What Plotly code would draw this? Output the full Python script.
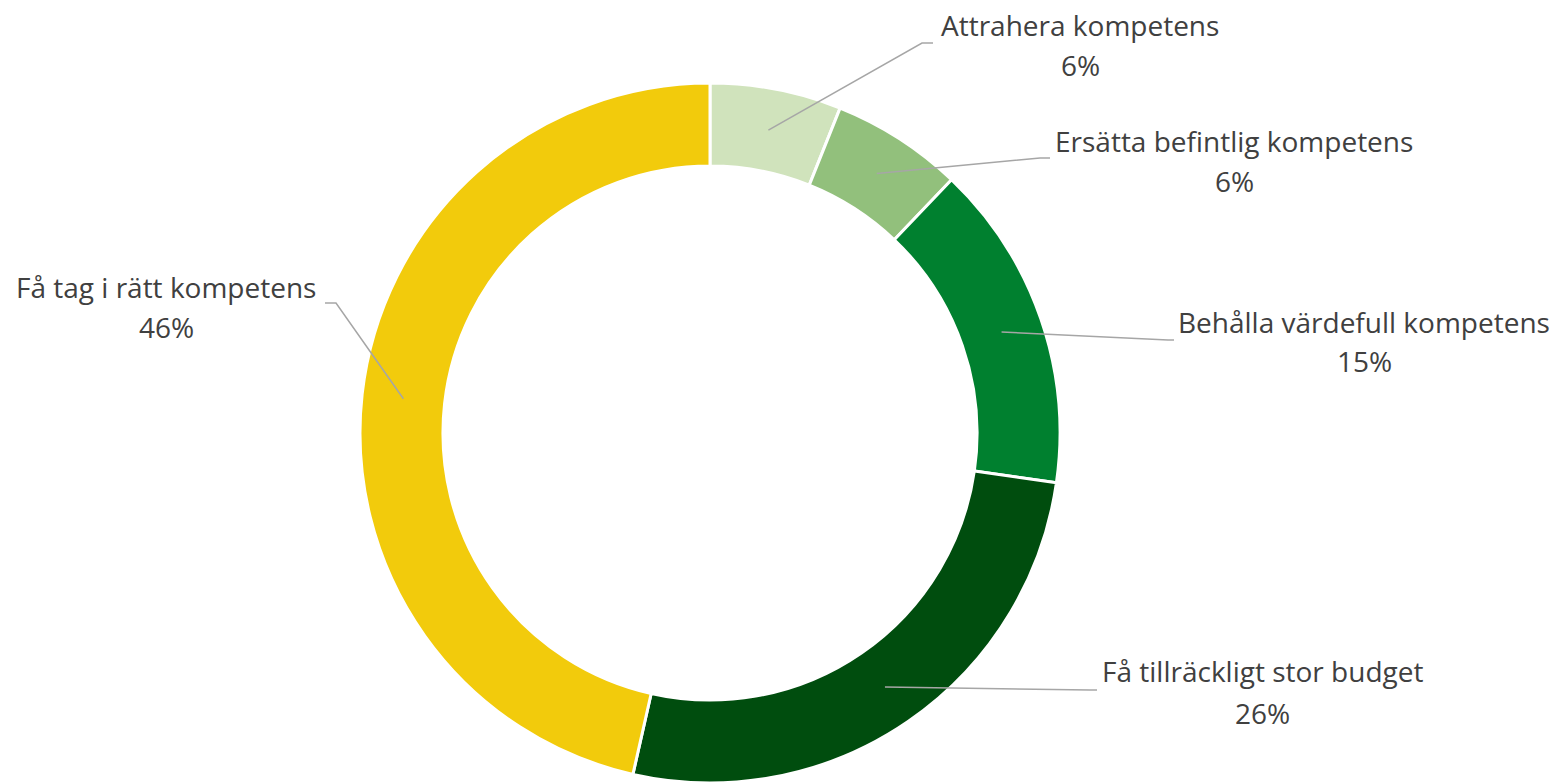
import math
import plotly.graph_objects as go

# ---- data ----
categories = ["Attrahera kompetens", "Ersätta befintlig kompetens", "Behålla värdefull kompetens",
              "Få tillräckligt stor budget", "Få tag i rätt kompetens"]
values = [6, 6, 15, 26, 46]
pct_labels = ["6%", "6%", "15%", "26%", "46%"]

# ---- style / layout ----
colors = ["#d0e3bc", "#92c07c", "#00802f", "#004d0e", "#f2cb0c"]
W, H = 1554, 783
CX, CY, R_OUT, HOLE = 710, 433, 350, 0.763
R_MID = R_OUT * (1 + HOLE) / 2
# label text centres (name line, pct line) and leader elbow / end points in pixels
label_pos = [(1080, 25, 65), (1234, 141, 181), (1364, 322, 361), (1262, 671, 713), (166, 287, 327)]
leader_elbow = [(922, 43), (1040, 158), (1168, 340), (1090, 690), (336, 303)]
leader_end = [(933, 43), (1050, 158), (1174, 340), (1097, 690), (325, 303)]
TXT = "#404040"
FONT = "Open Sans"
FS = 28

fig = go.Figure()
fig.add_trace(go.Pie(
    values=values, labels=categories, sort=False, direction="clockwise", rotation=0,
    hole=HOLE, marker=dict(colors=colors, line=dict(color="white", width=3)),
    textinfo="none", hoverinfo="label+percent", showlegend=False,
    domain=dict(x=[(CX - R_OUT) / W, (CX + R_OUT) / W], y=[0, 2 * R_OUT / H]),
))
# invisible trace to create the pixel-mapped cartesian frame
fig.add_trace(go.Scatter(x=[0, W], y=[0, H], mode="markers", marker=dict(opacity=0),
                         hoverinfo="skip", showlegend=False))

total = sum(values)
cum = 0
for i, v in enumerate(values):
    mid = (cum + v / 2) / total * 2 * math.pi
    cum += v
    sx = CX + R_MID * math.sin(mid)
    sy = CY - R_MID * math.cos(mid)
    ex, ey = leader_elbow[i]
    tx, ty = leader_end[i]
    fig.add_shape(type="path", path=f"M {sx},{sy} L {ex},{ey} L {tx},{ty}",
                  xref="x", yref="y", layer="above",
                  line=dict(color="#a6a6a6", width=1.5))
    lx, ly1, ly2 = label_pos[i]
    fig.add_annotation(x=lx, y=ly1, text=categories[i], showarrow=False, xref="x", yref="y",
                       xanchor="center", yanchor="middle", font=dict(family=FONT, size=FS, color=TXT))
    fig.add_annotation(x=lx, y=ly2, text=pct_labels[i], showarrow=False, xref="x", yref="y",
                       xanchor="center", yanchor="middle", font=dict(family=FONT, size=FS, color=TXT))

fig.update_layout(
    width=W, height=H, margin=dict(l=0, r=0, t=0, b=0),
    paper_bgcolor="white", plot_bgcolor="rgba(0,0,0,0)",
    xaxis=dict(range=[0, W], visible=False, domain=[0, 1], fixedrange=True),
    yaxis=dict(range=[H, 0], visible=False, domain=[0, 1], fixedrange=True),
)
fig.write_html("out.html", config={"displayModeBar": False},
               post_script="document.body.style.margin='0px';document.body.style.overflow='hidden';")
